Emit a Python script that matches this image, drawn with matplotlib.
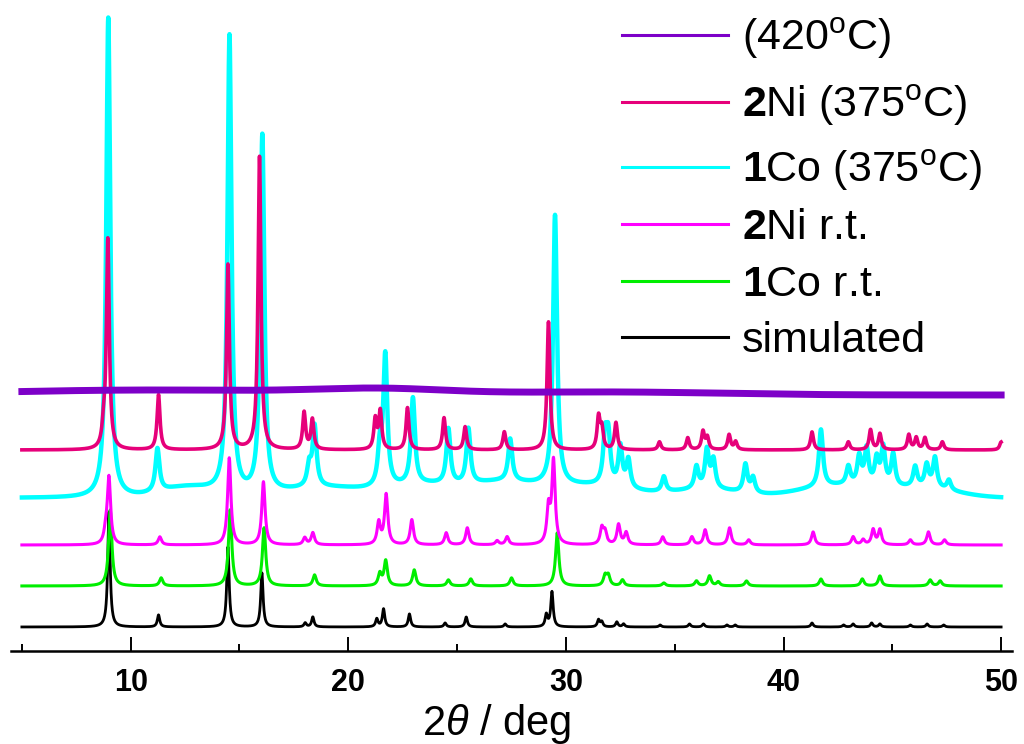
"""Stacked powder XRD patterns: simulated, as-synthesised and heated samples.
"""
import numpy as np
import matplotlib
matplotlib.use('Agg')
import matplotlib.pyplot as plt
from matplotlib.lines import Line2D
from matplotlib.ticker import MultipleLocator

plt.rcParams['font.family'] = ['Liberation Sans', 'DejaVu Sans']
plt.rcParams['mathtext.fontset'] = 'custom'
plt.rcParams['mathtext.rm'] = 'Liberation Sans'
plt.rcParams['mathtext.it'] = 'Liberation Sans:italic'
plt.rcParams['mathtext.bf'] = 'Liberation Sans:bold'

# ---- data (peak position / 2theta, peak height / arb. units) ----
# simulated
sim_pos = [9.0, 11.28, 14.47, 16.03, 18.02, 18.37, 21.31, 21.62, 22.81, 24.45, 25.42, 27.21,
           29.1, 29.36, 31.5, 31.65, 32.34, 32.65, 34.33, 35.68, 36.32, 37.4, 37.78, 41.31,
           42.76, 43.2, 44.05, 44.43, 45.83, 46.6, 47.36]
sim_int = [115, 12, 80, 54, 4, 10, 8, 18, 13, 4, 10, 3,
           12, 35, 7, 5, 5, 3, 2, 3, 3, 2, 2, 4,
           2, 3, 4, 3, 2, 3, 2]

# 1Co r.t.
co_rt_pos = [9.06, 11.4, 14.57, 16.13, 18.45, 21.45, 21.72, 23.03, 24.6, 25.63, 27.5, 29.6,
             31.8, 31.95, 32.6, 34.5, 36.0, 36.6, 37.0, 38.3, 41.72, 43.62, 44.43, 46.74, 47.2]
co_rt_int = [76, 8, 76, 58, 11, 12, 25, 16, 6, 7, 8, 53,
             10, 10, 6, 3, 5, 10, 4, 5, 7, 7, 10, 6, 5]

# 2Ni r.t.
ni_rt_pos = [8.85, 9.0, 11.34, 14.53, 16.1, 18.0, 18.37, 21.4, 21.74, 22.92, 24.5, 25.47,
             26.84, 27.3, 29.2, 29.43, 31.65, 31.8, 32.42, 32.77, 34.45, 35.79, 36.4, 37.52,
             38.4, 41.36, 43.2, 43.66, 44.12, 44.43, 45.83, 46.66, 47.4]
ni_rt_int = [10, 67, 8, 87, 63, 7, 12, 22, 50, 25, 12, 17,
             4, 8, 35, 83, 16, 12, 20, 12, 8, 8, 15, 17,
             5, 13, 8, 5, 15, 15, 5, 13, 5]

# 1Co (375 C)
co_375_pos = [8.97, 11.23, 14.54, 16.05, 18.2, 18.45, 21.45, 21.7, 22.97, 24.6, 25.52, 27.44,
              29.5, 31.8, 31.95, 32.5, 32.87, 34.5, 36.0, 36.48, 36.78, 38.25, 38.6, 41.72,
              42.98, 43.48, 43.82, 44.28, 44.58, 45.04, 46.05, 46.58, 46.96, 47.6]
co_375_int = [480, 43, 458, 358, 20, 60, 35, 130, 86, 55, 55, 42,
              270, 45, 45, 40, 28, 15, 22, 38, 28, 28, 15, 57,
              18, 28, 36, 26, 38, 32, 20, 22, 30, 10]
# broad amorphous background of 1Co (375 C): centre, height, width
co_375_bg_pos = [12.6, 19.0, 23.5, 27.0, 31.0, 36.5, 42.5, 46.5]
co_375_bg_int = [10, 10, 12, 14, 12, 8, 12, 9]
co_375_bg_sig = [1.2, 2.0, 1.5, 1.5, 2.0, 1.5, 1.8, 1.5]

# 2Ni (375 C)
ni_375_pos = [8.75, 8.95, 11.28, 14.47, 15.92, 17.97, 18.35, 21.24, 21.47, 22.72, 24.4, 25.37,
              27.17, 29.2, 31.5, 31.65, 32.3, 34.3, 35.6, 36.3, 36.5, 37.5, 37.8, 41.31,
              42.98, 44.0, 44.43, 45.76, 46.1, 46.5, 47.3, 50.0]
ni_375_int = [15, 210, 55, 185, 293, 37, 30, 30, 38, 42, 32, 23,
              18, 128, 32, 20, 27, 8, 12, 18, 12, 15, 8, 18,
              8, 20, 16, 15, 12, 12, 8, 8]

# (420 C): no Bragg peaks, only a faint broad background
t420_bg_pos = [11.0, 21.5, 32.0]
t420_bg_int = [5, 5, 3]
t420_bg_sig = [7.0, 3.0, 5.0]

two_theta = np.linspace(5, 50, 4501)


def lorentz_sum(x, pos, inten, fwhm):
    y = np.zeros_like(x)
    for p, h in zip(pos, inten):
        y += h / (1 + ((x - p) / (fwhm / 2)) ** 2)
    return y


def gauss_sum(x, pos, inten, sig):
    y = np.zeros_like(x)
    for p, h, s in zip(pos, inten, sig):
        y += h * np.exp(-0.5 * ((x - p) / s) ** 2)
    return y


patterns = [
    # label, curve, offset, colour, linewidth
    ('simulated', lorentz_sum(two_theta, sim_pos, sim_int, 0.13), 24, 'black', 2.0),
    (r'$\mathbf{1}$Co r.t.', lorentz_sum(two_theta, co_rt_pos, co_rt_int, 0.18), 65, '#00ee00', 2.2),
    (r'$\mathbf{2}$Ni r.t.', lorentz_sum(two_theta, ni_rt_pos, ni_rt_int, 0.18), 106, '#ff00ff', 2.2),
    (r'$\mathbf{1}$Co (375$^{\rm o}$C)',
     lorentz_sum(two_theta, co_375_pos, co_375_int, 0.22)
     + gauss_sum(two_theta, co_375_bg_pos, co_375_bg_int, co_375_bg_sig), 153, '#00ffff', 3.2),
    (r'$\mathbf{2}$Ni (375$^{\rm o}$C)', lorentz_sum(two_theta, ni_375_pos, ni_375_int, 0.16), 201, '#e6007a', 2.6),
    (r'(420$^{\rm o}$C)', gauss_sum(two_theta, t420_bg_pos, t420_bg_int, t420_bg_sig), 256, '#7d00c8', 5.0),
]

W, H = 1024, 744
fig = plt.figure(figsize=(W / 100, H / 100), dpi=100)
ax = fig.add_axes([11 / W, (H - 651) / H, 1001 / W, 639 / H])

for label, curve, off, col, lw in patterns:
    ax.plot(two_theta, curve + off, color=col, lw=lw, solid_joinstyle='round')

ax.set_xlim(4.5, 50.5)
ax.set_ylim(0, 639)
for s in ['left', 'right', 'top']:
    ax.spines[s].set_visible(False)
ax.spines['bottom'].set_linewidth(1.8)
ax.set_yticks([])
ax.xaxis.set_major_locator(MultipleLocator(10))
ax.xaxis.set_minor_locator(MultipleLocator(5))
ax.tick_params(axis='x', which='major', direction='in', length=10, width=1.4, pad=12,
               labelsize=22)
ax.tick_params(axis='x', which='minor', direction='in', length=5, width=1.4)
for t in ax.get_xticklabels():
    t.set_fontweight('bold')

ax.set_xlabel(r'2$\theta$ / deg', fontsize=30)
ax.xaxis.label.set_va('baseline')
ax.xaxis.set_label_coords((497 - 11) / 1001, (651 - 735) / 639)

# legend drawn by hand (rows are not evenly spaced in the original)
row_y = [35, 102, 167, 224, 281, 337]
for (label, curve, off, col, lw), yy in zip(patterns[::-1], row_y):
    fig.add_artist(Line2D([622 / W, 728 / W], [1 - yy / H] * 2, color=col, lw=2.2,
                          transform=fig.transFigure))
    fig.text(742 / W, 1 - (yy + 15) / H, label, fontsize=31, va='baseline', ha='left')

fig.savefig('out.png', dpi=100)
